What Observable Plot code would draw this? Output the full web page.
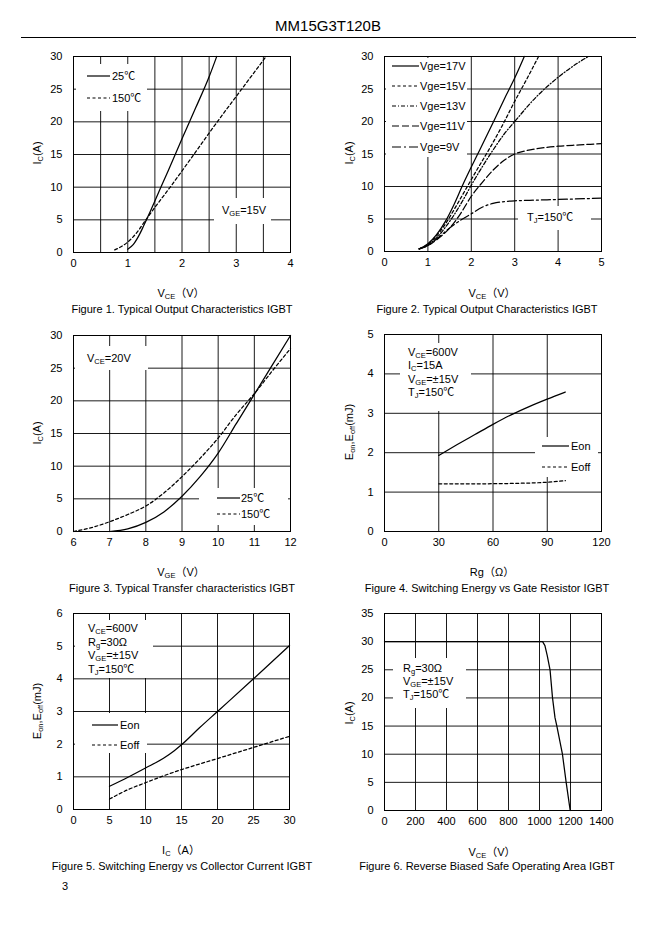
<!DOCTYPE html>
<html><head><meta charset="utf-8">
<script src="https://cdn.jsdelivr.net/npm/d3@7"></script>
<script src="https://cdn.jsdelivr.net/npm/@observablehq/plot@0.6"></script>
<style>
body{margin:0;background:#fff;color:#000;font-family:Arial,"Liberation Sans","Noto Sans CJK SC",sans-serif}
#page{position:relative;width:661px;height:936px;overflow:hidden;background:#fff}
.t{position:absolute;white-space:nowrap;font-size:11px;line-height:1}
.s{font-size:7.5px;position:relative;top:2px;line-height:1}
.box{position:absolute;background:#fff}
svg.smp{position:absolute;overflow:visible}
</style></head>
<body><div id="page"></div>
<script>
// ---------- DATA ----------
// Figure 1: Ic(A) vs Vce(V), Vge=15V
const fig1_25C  = [[1.0,0.5],[1.1,1.2],[1.2,2.5],[1.3,4.2],[1.4,6.0],[1.5,7.9],[1.75,12.6],[2.0,17.4],[2.25,22.1],[2.5,26.9],[2.64,30]];
const fig1_150C = [[0.76,0.4],[0.9,1.0],[1.0,1.6],[1.1,2.4],[1.2,3.4],[1.3,4.6],[1.5,6.9],[1.8,10.2],[2.2,14.8],[2.65,20],[3.1,25],[3.55,30]];
// Figure 2: Ic(A) vs Vce(V), Tj=150C
const fig2_17V = [[0.8,0.4],[1.0,1.2],[1.2,2.6],[1.4,4.6],[1.6,7.2],[1.8,10.2],[2.0,13.0],[2.2,15.7],[2.5,19.8],[2.8,24.0],[3.0,26.7],[3.22,30]];
const fig2_15V = [[0.8,0.4],[1.0,1.1],[1.2,2.4],[1.4,4.2],[1.6,6.4],[1.9,9.9],[2.15,12.8],[2.4,15.6],[2.7,19.2],[3.0,23.1],[3.3,26.8],[3.55,30]];
const fig2_13V = [[0.8,0.4],[1.0,1.0],[1.2,2.1],[1.4,3.7],[1.6,5.6],[1.8,7.8],[2.0,10.2],[2.25,13.0],[2.5,15.6],[2.75,18.0],[3.0,20.0],[3.5,23.8],[4.0,26.8],[4.5,29.2],[4.7,30]];
const fig2_11V = [[0.8,0.4],[1.0,0.9],[1.2,1.8],[1.5,3.6],[1.75,5.8],[2.0,8.5],[2.25,10.6],[2.5,12.5],[2.75,14.0],[3.0,15.0],[3.25,15.5],[3.5,15.8],[4.0,16.2],[4.5,16.4],[5.0,16.6]];
const fig2_9V  = [[0.8,0.4],[1.0,0.9],[1.25,2.2],[1.5,3.6],[1.75,4.8],[2.0,5.8],[2.25,6.8],[2.5,7.4],[3.0,7.8],[3.5,7.9],[4.0,8.0],[5.0,8.2]];
// Figure 3: Ic(A) vs Vge(V), Vce=20V
const fig3_25C  = [[7,0],[7.5,0.4],[8,1.4],[8.5,3.0],[9,5.4],[9.5,8.4],[10,12.0],[10.5,16.5],[11,21.0],[11.5,25.5],[12,30]];
const fig3_150C = [[6,0],[6.5,0.6],[7,1.5],[7.5,2.6],[8,3.9],[8.5,5.9],[9,8.4],[9.5,11.2],[10,14.3],[10.5,17.9],[11,21.1],[11.5,24.6],[12,28]];
// Figure 4: E(mJ) vs Rg(ohm)
const fig4_Eon  = [[30,1.93],[40,2.2],[50,2.46],[60,2.72],[70,2.96],[80,3.17],[90,3.36],[100,3.54]];
const fig4_Eoff = [[30,1.21],[50,1.21],[70,1.22],[90,1.25],[100,1.29]];
// Figure 5: E(mJ) vs Ic(A)
const fig5_Eon  = [[5,0.71],[7.5,0.98],[10,1.27],[12.5,1.57],[14,1.8],[15,1.98],[17.5,2.5],[20,3.0],[25,4.0],[30,5.02]];
const fig5_Eoff = [[5,0.32],[7.5,0.6],[10,0.82],[12.5,1.03],[15,1.22],[20,1.56],[25,1.9],[30,2.24]];
// Figure 6: RBSOA Ic(A) vs Vce(V)
const fig6_RBSOA = [[0,30],[1020,30],[1035,29.3],[1050,27.5],[1068,25],[1084,20],[1100,16.5],[1112,15],[1148,10],[1172,5],[1198,0]];

// tick labels
const ticks0to4 = [0,1,2,3,4];
const ticks0to5 = [0,1,2,3,4,5];
const ticks6to12 = [6,7,8,9,10,11,12];
const ticksRg = [0,30,60,90,120];
const ticksIc = [0,5,10,15,20,25,30];
const ticksE6 = [0,1,2,3,4,5,6];
const ticksV1400 = [0,200,400,600,800,1000,1200,1400];
const ticksA30 = [0,5,10,15,20,25,30];
const ticksA35 = [0,5,10,15,20,25,30,35];
const grid1X = [0.5,1,1.5,2,2.5,3,3.5];

// ---------- DRAW ----------
const page = document.getElementById("page");
const FONT = 'Arial, "Liberation Sans", "Noto Sans CJK SC", sans-serif';

function panel(o){
  const mL=40,mR=12,mT=10,mB=26;
  const chart = Plot.plot({
    width:o.w+mL+mR, height:o.h+mT+mB,
    marginLeft:mL, marginRight:mR, marginTop:mT, marginBottom:mB,
    style:{fontFamily:FONT,fontSize:"11px",background:"transparent",color:"#000",overflow:"visible"},
    x:{domain:o.x, ticks:o.xt, tickSize:0, tickPadding:7, label:null, tickFormat:d=>String(d)},
    y:{domain:o.y, ticks:o.yt, tickSize:0, tickPadding:11, label:null, tickFormat:d=>String(d)},
    marks:[
      Plot.ruleX(o.gx,{stroke:"#000",strokeWidth:0.9}),
      Plot.ruleY(o.gy,{stroke:"#000",strokeWidth:0.9}),
      ...o.series.map(s=>Plot.line(s.data,{x:d=>d[0],y:d=>d[1],stroke:"#000",strokeWidth:1.25,strokeDasharray:s.dash||null,curve:o.curve||"monotone-x"})),
      Plot.frame({stroke:"#000",strokeWidth:1})
    ]
  });
  chart.style.position="absolute";
  chart.style.left=(o.left-mL)+"px";
  chart.style.top=(o.top-mT)+"px";
  page.appendChild(chart);
}
function box(x1,y1,x2,y2){
  const d=document.createElement("div");d.className="box";
  Object.assign(d.style,{left:x1+"px",top:y1+"px",width:(x2-x1)+"px",height:(y2-y1)+"px"});
  page.appendChild(d);
}
function text(x,y,html,anchor="start",size=11,rot=false){
  const d=document.createElement("div");d.className="t";d.innerHTML=html;
  d.style.left=x+"px";d.style.top=y+"px";d.style.fontSize=size+"px";
  const tx = anchor==="middle"?"-50%":anchor==="end"?"-100%":"0";
  d.style.transform = rot?"translate(-50%,-50%) rotate(-90deg)":`translate(${tx},-50%)`;
  page.appendChild(d);
}
function sample(x1,x2,y,dash){
  const ns="http://www.w3.org/2000/svg";
  const s=document.createElementNS(ns,"svg");s.setAttribute("class","smp");
  s.setAttribute("width",x2-x1);s.setAttribute("height",4);
  s.style.left=x1+"px";s.style.top=(y-2)+"px";
  const l=document.createElementNS(ns,"line");
  l.setAttribute("x1",0);l.setAttribute("x2",x2-x1);l.setAttribute("y1",2);l.setAttribute("y2",2);
  l.setAttribute("stroke","#000");l.setAttribute("stroke-width",1.2);
  if(dash)l.setAttribute("stroke-dasharray",dash);
  s.appendChild(l);page.appendChild(s);
}
const sub = t=>`<span class="s">${t}</span>`;
const DASH="3,2.5", D15="3,2.5", D13="4,2,1,2", D11="7,3", D9="9,3,2,3";

// header
text(328,25,"MM15G3T120B","middle",15);
const hr=document.createElement("div");
Object.assign(hr.style,{position:"absolute",left:"21px",top:"37px",width:"615px",height:"1.2px",background:"#000"});
page.appendChild(hr);

// Figure 1
panel({left:73,top:56,w:217,h:196,x:[0,4],xt:ticks0to4,y:[0,30],yt:ticksIc,gx:grid1X,gy:[5,10,15,20,25],
  series:[{data:fig1_25C},{data:fig1_150C,dash:DASH}]});
box(76,64,147,111); sample(87,110,76); sample(87,110,98,DASH);
text(112,76,"25℃"); text(112,98,"150℃");
box(214,198,271,224); text(222,210,`V${sub("GE")}=15V`);
text(37,153,`I${sub("C")}(A)`,"middle",11,true);
text(181,293,`V${sub("CE")}（V）`,"middle");
text(182,309,"Figure 1. Typical Output Characteristics IGBT","middle");

// Figure 2
panel({left:384,top:56,w:217,h:195,x:[0,5],xt:ticks0to5,y:[0,30],yt:ticksIc,gx:[1,2,3,4],gy:[5,10,15,20,25],
  series:[{data:fig2_17V},{data:fig2_15V,dash:D15},{data:fig2_13V,dash:D13},{data:fig2_11V,dash:D11},{data:fig2_9V,dash:D9}]});
box(386,58,467,157);
[["Vge=17V",null,66],["Vge=15V",D15,86],["Vge=13V",D13,106],["Vge=11V",D11,126],["Vge=9V",D9,147]].forEach(([t,d,y])=>{sample(392,419,y,d);text(420,y,t);});
box(518,206,591,230); text(527,217,`T${sub("J")}=150℃`);
text(349,153,`I${sub("C")}(A)`,"middle",11,true);
text(492,293,`V${sub("CE")}（V）`,"middle");
text(487,309,"Figure 2. Typical Output Characteristics IGBT","middle");

// Figure 3
panel({left:73,top:335,w:217,h:196,x:[6,12],xt:ticks6to12,y:[0,30],yt:ticksIc,gx:[7,8,9,10,11],gy:[5,10,15,20,25],
  series:[{data:fig3_25C},{data:fig3_150C,dash:DASH}]});
box(75,346,148,370); text(87,358,`V${sub("CE")}=20V`);
box(199,488,288,525); sample(217,240,498); sample(217,240,514,DASH);
text(241,498,"25℃"); text(241,514,"150℃");
text(37,433,`I${sub("C")}(A)`,"middle",11,true);
text(181,572,`V${sub("GE")}（V）`,"middle");
text(182,588,"Figure 3. Typical Transfer characteristics IGBT","middle");

// Figure 4
panel({left:384,top:334,w:217,h:197,x:[0,120],xt:ticksRg,y:[0,5],yt:ticks0to5,gx:[30,60,90],gy:[1,2,3,4],
  series:[{data:fig4_Eon},{data:fig4_Eoff,dash:DASH}]});
box(400,343,471,411);
[`V${sub("CE")}=600V`,`I${sub("C")}=15A`,`V${sub("GE")}=±15V`,`T${sub("J")}=150℃`].forEach((t,i)=>text(408,352+i*13.3,t));
box(535,437,598,477); sample(542,569,446); sample(542,569,467,DASH);
text(571,446,"Eon"); text(571,467,"Eoff");
text(349,432,`E${sub("on")},E${sub("off")}(mJ)`,"middle",11,true);
text(492,572,"Rg（Ω）","middle");
text(487,588,"Figure 4. Switching Energy vs Gate Resistor IGBT","middle");

// Figure 5
panel({left:73,top:613,w:216,h:196,x:[0,30],xt:ticksA30,y:[0,6],yt:ticksE6,gx:[5,10,15,20,25],gy:[1,2,3,4,5],
  series:[{data:fig5_Eon},{data:fig5_Eoff,dash:DASH}]});
box(75,620,153,678);
[`V${sub("CE")}=600V`,`R${sub("g")}=30Ω`,`V${sub("GE")}=±15V`,`T${sub("J")}=150℃`].forEach((t,i)=>text(88,628+i*13.6,t));
box(75,713,147,753); sample(92,118,725); sample(92,118,745,DASH);
text(120,725,"Eon"); text(120,745,"Eoff");
text(37,711,`E${sub("on")},E${sub("off")}(mJ)`,"middle",11,true);
text(181,850,`I${sub("C")}（A）`,"middle");
text(182,866,"Figure 5. Switching Energy vs Collector Current IGBT","middle");

// Figure 6
panel({left:384,top:613,w:217,h:197,x:[0,1400],xt:ticksV1400,y:[0,35],yt:ticksA35,gx:[200,400,600,800,1000,1200],gy:[5,10,15,20,25,30],
  curve:"linear", series:[{data:fig6_RBSOA}]});
box(393,658,466,708);
[`R${sub("g")}=30Ω`,`V${sub("GE")}=±15V`,`T${sub("J")}=150℃`].forEach((t,i)=>text(403,668+i*13,t));
text(349,713,`I${sub("C")}(A)`,"middle",11,true);
text(492,852,`V${sub("CE")}（V）`,"middle");
text(487,866,"Figure 6. Reverse Biased Safe Operating Area IGBT","middle");

// page number
text(62,886,"3");
</script>
</body></html>
